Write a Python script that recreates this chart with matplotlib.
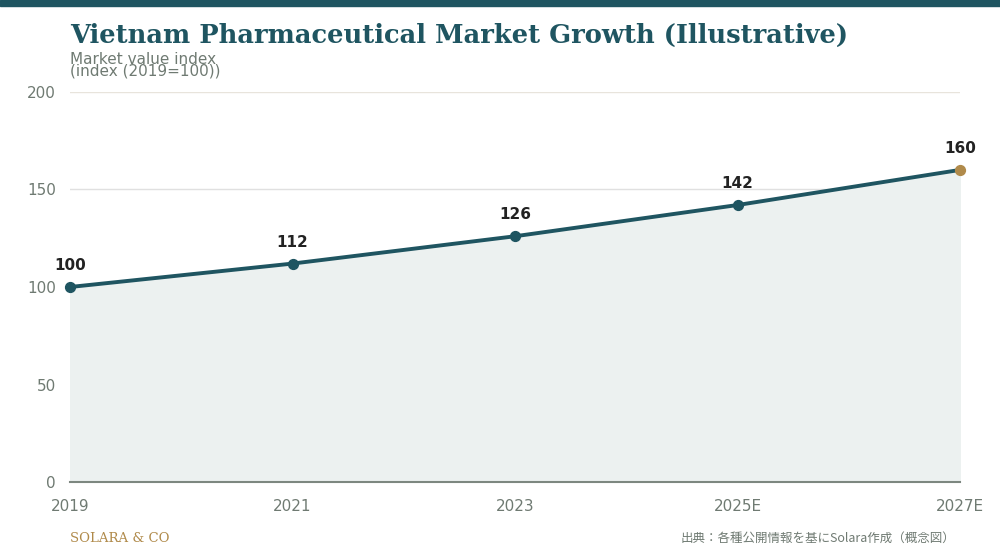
import matplotlib
matplotlib.use("Agg")
import matplotlib.pyplot as plt

plt.rcParams['font.family'] = ['DejaVu Sans']

years = ["2019", "2021", "2023", "2025E", "2027E"]
values = [100, 112, 126, 142, 160]
yticks = [0, 50, 100, 150, 200]

teal = "#1f5561"
gold = "#b08a4a"
grey = "#6f7a72"

fig = plt.figure(figsize=(10, 5.6), dpi=100)
ax = fig.add_axes([0.07, 0.139, 0.89, 0.697])
x = list(range(len(years)))
ax.fill_between(x, values, 0, color="#ecf1f0", zorder=1)
ax.plot(x, values, color=teal, lw=2.8, zorder=3)
ax.scatter(x[:-1], values[:-1], s=50, color=teal, zorder=4, clip_on=False)
ax.scatter(x[-1:], values[-1:], s=50, color=gold, zorder=4, clip_on=False)
for xi, v in zip(x, values):
    ax.annotate(str(v), (xi, v), xytext=(0, 10), textcoords="offset points",
                ha="center", va="bottom", fontsize=11, fontweight="bold", color="#222222")
ax.set_xlim(0, len(years) - 1)
ax.set_ylim(0, 200)
ax.set_xticks(x, years)
ax.set_yticks(yticks)
gridcols = {50: "#e3ddd0", 100: "#dddddd", 150: "#e0e0e0", 200: "#e8e4dc"}
for t, c in gridcols.items():
    ax.axhline(t, color=c, lw=1, zorder=0)
for s in ["top", "right", "left"]:
    ax.spines[s].set_visible(False)
ax.spines["bottom"].set_color("#7d8780")
ax.spines["bottom"].set_linewidth(1.5)
ax.tick_params(length=0, labelsize=11, colors=grey)
ax.tick_params(axis="x", pad=12)
ax.tick_params(axis="y", pad=10)

fig.patches.append(plt.Rectangle((0, 1 - 6/560), 1, 6/560, transform=fig.transFigure, color=teal))
fig.text(0.07, 0.915, "Vietnam Pharmaceutical Market Growth (Illustrative)", family="DejaVu Serif",
         fontsize=18.5, fontweight="bold", color=teal, va="bottom")
fig.text(0.07, 0.859, "Market value index\n(index (2019=100))", fontsize=11, color=grey,
         va="bottom", linespacing=0.72)
fig.text(0.07, 0.027, "SOLARA & CO", family="DejaVu Serif", fontsize=9.5, color=gold, va="bottom")
fig.text(0.955, 0.027, "出典：各種公開情報を基にSolara作成（概念図）",
         family=["Noto Sans CJK JP", "DejaVu Sans"], fontsize=9, color=grey, ha="right", va="bottom")
fig.savefig("out.png", dpi=100)
